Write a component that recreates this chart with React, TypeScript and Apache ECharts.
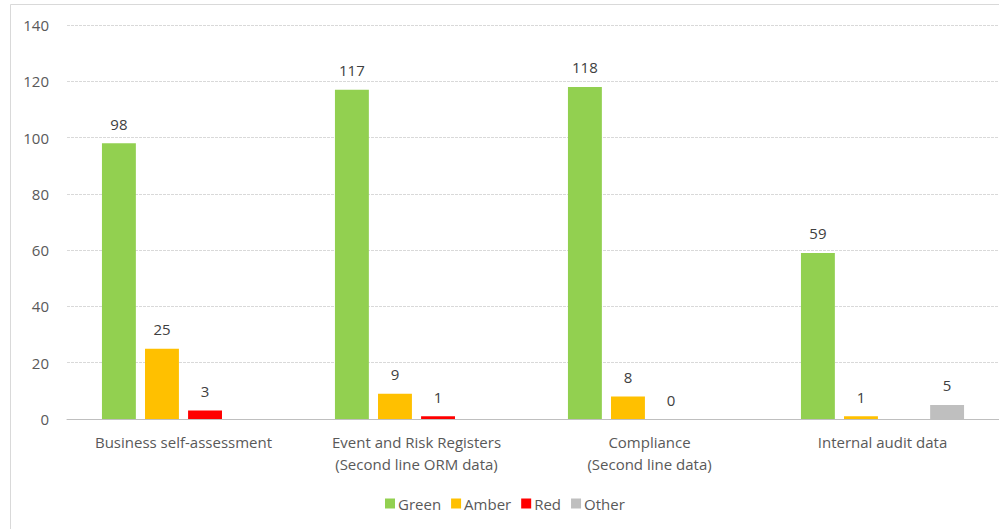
import React, { useEffect, useRef } from "react";
import * as echarts from "echarts";

const categories = [
  "Business self-assessment",
  "Event and Risk Registers\n(Second line ORM data)",
  "Compliance\n(Second line data)",
  "Internal audit data",
];
const greenValues = [98, 117, 118, 59];
const amberValues = [25, 9, 8, 1];
const redValues: (number | null)[] = [3, 1, 0, null];
const otherValues: (number | null)[] = [null, null, null, 5];
const seriesNames = ["Green", "Amber", "Red", "Other"];
const seriesColors = ["#92D050", "#FFC000", "#FF0000", "#BFBFBF"];

const FONT = "'Open Sans', 'Noto Sans', sans-serif";

export default function App() {
  const ref = useRef<HTMLDivElement>(null);
  useEffect(() => {
    if (!ref.current) return;
    const chart = echarts.init(ref.current, null, { renderer: "svg" });
    const data = [greenValues, amberValues, redValues, otherValues];
    chart.setOption({
      animation: false,
      backgroundColor: "#ffffff",
      textStyle: { fontFamily: FONT },
      graphic: [
        {
          type: "line",
          shape: { x1: 10.5, y1: 4.5, x2: 10.5, y2: 529 },
          style: { stroke: "#d9d9d9", lineWidth: 1 },
        },
        {
          type: "line",
          shape: { x1: 10.5, y1: 4.5, x2: 999, y2: 4.5 },
          style: { stroke: "#d9d9d9", lineWidth: 1 },
        },
      ],
      grid: { left: 67, right: 0, top: 25, bottom: 110, containLabel: false },
      legend: {
        data: seriesNames,
        top: 491,
        left: 380,
        itemWidth: 10,
        itemHeight: 10,
        itemGap: 10,
        icon: "rect",
        textStyle: { color: "#595959", fontSize: 15, fontFamily: FONT, padding: [0, 0, 0, -2] },
      },
      xAxis: {
        type: "category",
        data: categories,
        axisLine: { show: true, lineStyle: { color: "#bfbfbf" } },
        axisTick: { show: false },
        axisLabel: {
          color: "#595959",
          fontSize: 15,
          lineHeight: 22,
          margin: 12,
          fontFamily: FONT,
        },
      },
      yAxis: {
        type: "value",
        min: 0,
        max: 140,
        interval: 20,
        axisLine: { show: false },
        axisTick: { show: false },
        axisLabel: { color: "#595959", fontSize: 15, margin: 18, fontFamily: FONT },
        splitLine: { lineStyle: { color: "#d9d9d9", type: [3, 1] } },
      },
      series: seriesNames.map((name, i) => ({
        name,
        type: "bar",
        data: data[i],
        barGap: "27%",
        barCategoryGap: "30%",
        itemStyle: { color: seriesColors[i] },
        label: {
          show: true,
          position: "top",
          distance: 12,
          color: "#404040",
          fontSize: 15,
          fontFamily: FONT,
        },
      })),
    });
    return () => chart.dispose();
  }, []);
  return (
    <div
      ref={ref}
      style={{ position: "fixed", left: 0, top: 0, width: 999, height: 529 }}
    />
  );
}
